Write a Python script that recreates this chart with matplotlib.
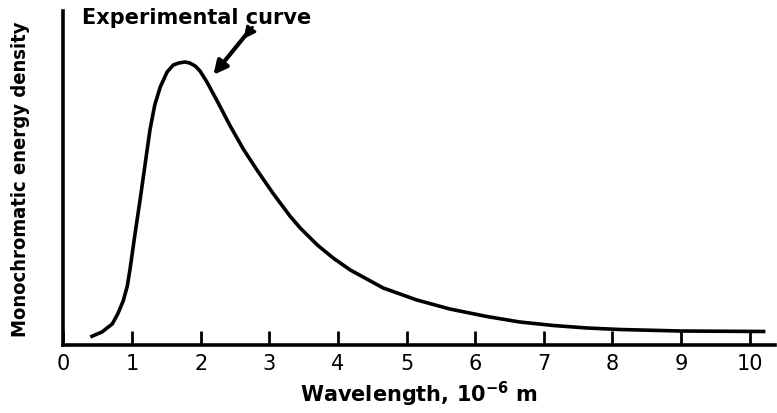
import matplotlib.pyplot as plt

# curve (x in 1e-6 m, y in arbitrary units)
wavelength = [0.39, 0.56, 0.71, 0.79, 0.87, 0.93, 0.97, 1.04, 1.12, 1.19, 1.26, 1.33, 1.41,
              1.51, 1.60, 1.68, 1.77, 1.84, 1.92, 1.99, 2.09, 2.24, 2.43, 2.62, 2.82,
              3.05, 3.30, 3.45, 3.70, 3.93, 4.18, 4.66, 5.15, 5.63, 6.17, 6.65, 7.14,
              7.63, 8.11, 8.99, 10.23]
density = [8, 13, 21, 31, 44, 59, 76, 110, 147, 181, 215, 240, 258,
           273, 280, 282, 283, 282, 279, 274, 263, 244, 219, 196, 175,
           152, 129, 117, 100, 87, 75, 57, 45, 36, 28.5, 23, 19.5,
           17, 15.5, 14, 13.5]
xticks = [0, 1, 2, 3, 4, 5, 6, 7, 8, 9, 10]

plt.rcParams['font.family'] = ['DejaVu Sans']
plt.rcParams['mathtext.default'] = 'regular'

fig = plt.figure(figsize=(7.77, 4.14), dpi=100)
ax = fig.add_axes([63.5/777, 1-346/414, (775-63.5)/777, 334/414])
ax.plot(wavelength, density, color='black', lw=2.6, solid_joinstyle='round', solid_capstyle='butt')
ax.set_xlim(0, 10.37)
ax.set_ylim(0, 334)

for s in ['top', 'right']:
    ax.spines[s].set_visible(False)
for s in ['left', 'bottom']:
    ax.spines[s].set_linewidth(2.6)

ax.set_xticks(xticks)
ax.set_xticklabels([str(t) for t in xticks], fontsize=15)
ax.tick_params(axis='x', direction='in', length=10, width=2, pad=6)
ax.set_yticks([])

ax.set_xlabel('Wavelength, 10$^{-6}$ m', fontsize=15, fontweight='bold', labelpad=4)
ax.set_ylabel('Monochromatic energy density', fontsize=14.5, fontweight='bold',
              fontstretch='condensed', labelpad=24)

ax.text(0.27, 328, 'Experimental curve', fontsize=15, fontweight='bold', va='center', ha='left')
ax.annotate('', xy=(2.16, 268), xytext=(2.68, 312),
            arrowprops=dict(arrowstyle='-|>', lw=3, mutation_scale=20, color='black'))
# tail feathers
ax.annotate('', xy=(2.6, 304), xytext=(2.78, 320),
            arrowprops=dict(arrowstyle='-|>', lw=2, mutation_scale=17, color='black'))

fig.savefig('out.png', dpi=100)
